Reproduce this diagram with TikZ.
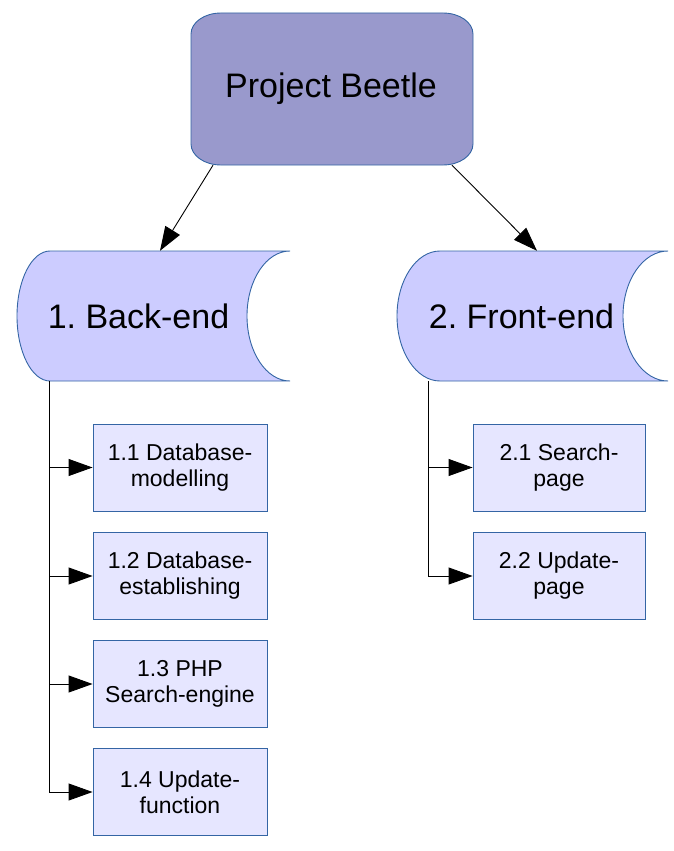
\documentclass[tikz,border=0pt]{standalone}
\usepackage{fontspec}
\setmainfont{Liberation Sans}
\usetikzlibrary{arrows.meta,calc}
\frenchspacing
\definecolor{edgeblue}{HTML}{3465A4}
\definecolor{topfill}{HTML}{9999CC}
\definecolor{phasefill}{HTML}{CCCCFF}
\definecolor{boxfill}{HTML}{E6E6FF}
\tikzset{
  bigtext/.style={font=\fontsize{34}{40}\selectfont\frenchspacing, inner sep=0pt},
  frame/.style={draw=none, inner sep=0pt},
  shapeline/.style={draw=edgeblue, line width=0.9pt},
  taskbox/.style={draw=edgeblue, fill=boxfill, line width=0.9pt, minimum height=87pt,
    align=center, inner sep=0pt, font=\fontsize{23}{26}\selectfont\frenchspacing,
    execute at begin node={\rule{0pt}{28pt}}},
  conn/.style={line width=0.9pt, -{Triangle[length=24pt,width=17pt]}},
}
\begin{document}
\begin{tikzpicture}[x=1pt,y=-1pt]
\useasboundingbox (0,0) rectangle (673,851);
% top node shape
\draw[shapeline, fill=topfill] (221,13) -- (443,13) .. controls (459.6,13) and (473,22.4) .. (473,34)
  -- (473,144) .. controls (473,155.6) and (459.6,165) .. (443,165)
  -- (221,165) .. controls (204.4,165) and (191,155.6) .. (191,144)
  -- (191,34) .. controls (191,22.4) and (204.4,13) .. cycle;
\node[frame, minimum width=282pt, minimum height=152pt] (pb) at (332,89) {};
\node[bigtext] (pbt) at (331,89) {Project Beetle};
% back-end shape
\draw[shapeline, fill=phasefill] (50,251) -- (290,251) .. controls (266.3,251) and (247,280.1) .. (247,316)
  .. controls (247,351.9) and (266.3,381) .. (290,381)
  -- (50,381) .. controls (31.8,381) and (17,351.9) .. (17,316)
  .. controls (17,280.1) and (31.8,251) .. cycle;
\node[frame, minimum width=273pt, minimum height=130pt] (be) at (153.5,316) {};
\node[bigtext] (bet) at (138.5,316) {1. Back-end};
% front-end shape
\draw[shapeline, fill=phasefill] (440,251) -- (668,251) .. controls (643.2,251) and (623,280.1) .. (623,316)
  .. controls (623,351.9) and (643.2,381) .. (668,381)
  -- (440,381) .. controls (416.3,381) and (397,351.9) .. (397,316)
  .. controls (397,280.1) and (416.3,251) .. cycle;
\node[frame, minimum width=271pt, minimum height=130pt] (fe) at (532.5,316) {};
\node[bigtext] (fet) at (521.5,316) {2. Front-end};
% task boxes
\node[taskbox, minimum width=174pt] (b11) at (180,467.5) {1.1 Database-\\modelling};
\node[taskbox, minimum width=174pt] (b12) at (180,576) {1.2 Database-\\establishing};
\node[taskbox, minimum width=174pt] (b13) at (180,684) {1.3 PHP\\Search-engine};
\node[taskbox, minimum width=174pt] (b14) at (180,792) {1.4 Update-\\function};
\node[taskbox, minimum width=172pt] (f21) at (559,467.5) {2.1 Search-\\page};
\node[taskbox, minimum width=172pt] (f22) at (559,576) {2.2 Update-\\page};
% connectors
\draw[conn] ($(pb.south)+(-119,0)$) -- ($(be.north)+(6.5,0)$);
\draw[conn] ($(pb.south)+(120,0)$) -- ($(fe.north)+(4.5,0)$);
\coordinate (bstem) at ($(be.south west)+(33,0)$);
\coordinate (fstem) at ($(fe.south west)+(32,0)$);
\foreach \t in {b11,b12,b13,b14} \draw[conn] (bstem) |- (\t.west);
\foreach \t in {f21,f22} \draw[conn] (fstem) |- (\t.west);
\end{tikzpicture}
\end{document}
